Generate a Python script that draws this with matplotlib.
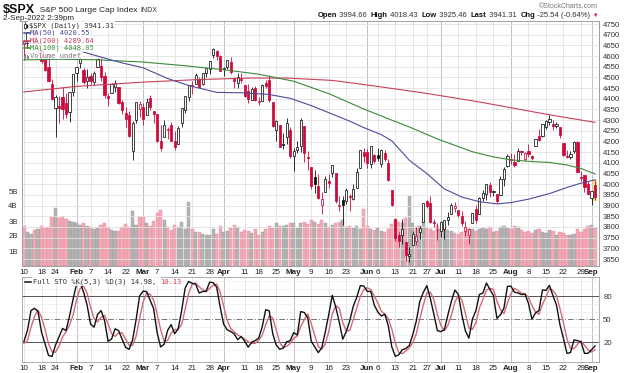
import numpy as np
import pandas as pd
import matplotlib
matplotlib.use("Agg")
import matplotlib.pyplot as plt
from matplotlib.patches import Rectangle
from matplotlib.lines import Line2D

plt.rcParams["font.family"] = ["Liberation Sans", "DejaVu Sans"]

# ---- data -------------------------------------------------------------
holidays = ["2022-01-17", "2022-02-21", "2022-04-15", "2022-05-30", "2022-06-20", "2022-07-04"]
dates = pd.bdate_range("2022-01-10", "2022-09-02", freq="C", holidays=holidays)

opens = [
    4655.34, 4669.14, 4728.59, 4733.56, 4637.99, 4632.24, 4588.03, 4547.35, 4471.38, 4356.32, 4366.64, 4408.43, 4380.58, 4336.19, 4431.79,
    4519.57, 4566.39, 4535.41, 4482.79, 4505.75, 4480.02, 4547.00, 4553.24, 4506.27, 4412.61, 4429.28, 4455.75, 4456.06, 4384.57, 4332.74, 4324.93, 4155.77, 4298.38, 4354.17,
    4363.14, 4322.56, 4401.31, 4342.12, 4327.01, 4202.66, 4223.10, 4252.55, 4279.50, 4202.75, 4188.82, 4288.14, 4345.11, 4407.34, 4462.40, 4469.10, 4493.10, 4469.98, 4522.66, 4541.09, 4602.86, 4624.20, 4599.02,
    4540.32, 4547.97, 4572.45, 4494.17, 4474.65, 4494.15, 4462.64, 4437.59, 4394.30, 4449.12, 4385.63, 4390.63, 4472.26, 4489.17, 4385.83, 4255.34, 4278.14, 4186.52, 4222.58, 4253.75,
    4130.61, 4159.78, 4181.18, 4270.43, 4128.17, 4081.27, 4035.18, 3990.08, 3903.95, 3963.90, 4013.02, 4052.00, 4051.98, 3899.00, 3927.76, 3919.42, 3942.94, 3929.59, 3984.60, 4077.43, 4151.09,
    4149.78, 4095.41, 4137.57, 4134.72, 4096.47, 4147.12, 4101.65, 3974.39, 3838.15, 3763.52, 3764.05, 3728.18, 3665.90, 3715.31, 3733.89, 3774.71, 3821.75, 3920.76, 3913.00, 3825.09, 3785.99,
    3781.00, 3792.61, 3831.98, 3858.85, 3888.26, 3880.94, 3851.95, 3779.67, 3763.99, 3818.00, 3883.79, 3860.73, 3935.32, 3955.47, 3998.43, 3965.72, 3953.22, 3951.43, 4026.13, 4087.33,
    4112.38, 4104.21, 4107.96, 4154.85, 4115.87, 4155.93, 4133.11, 4181.02, 4227.40, 4225.02, 4269.37, 4290.46, 4280.40, 4273.13, 4266.31, 4195.08, 4133.09, 4126.55, 4153.26, 4198.74, 4034.58, 4041.25, 4000.67,
    3936.73, 3994.66]
highs = [
    4673.02, 4714.13, 4748.83, 4744.13, 4665.13, 4632.24, 4611.55, 4602.11, 4494.52, 4417.35, 4411.01, 4453.23, 4428.74, 4432.72, 4516.89,
    4550.49, 4595.31, 4542.88, 4539.66, 4521.86, 4531.32, 4590.03, 4588.92, 4526.33, 4426.22, 4472.77, 4489.55, 4456.06, 4394.60, 4362.12, 4341.51, 4294.73, 4385.34, 4388.84,
    4378.45, 4401.48, 4416.78, 4342.12, 4327.01, 4276.94, 4299.40, 4268.28, 4291.01, 4247.57, 4271.05, 4357.86, 4412.67, 4465.40, 4481.75, 4522.00, 4501.07, 4520.58, 4546.03, 4575.65, 4637.30, 4627.77, 4603.07,
    4548.70, 4583.50, 4593.45, 4503.94, 4521.16, 4520.41, 4464.35, 4471.00, 4453.92, 4460.46, 4410.31, 4471.03, 4488.29, 4512.94, 4385.83, 4299.02, 4278.14, 4240.71, 4308.45, 4269.68,
    4169.81, 4200.10, 4307.66, 4270.43, 4157.69, 4081.27, 4068.82, 4049.09, 3964.80, 4038.88, 4046.46, 4090.72, 4051.98, 3945.96, 3943.42, 3981.88, 3955.68, 3999.33, 4075.14, 4158.49, 4168.34,
    4166.54, 4177.51, 4142.67, 4168.78, 4164.86, 4160.14, 4119.10, 3974.39, 3838.15, 3778.18, 3837.56, 3728.18, 3707.71, 3779.65, 3801.79, 3802.58, 3913.65, 3927.72, 3945.86, 3836.50, 3818.99,
    3829.82, 3832.19, 3870.91, 3910.63, 3918.50, 3880.94, 3873.41, 3829.44, 3796.41, 3863.62, 3902.44, 3939.81, 3974.13, 3999.29, 4012.44, 3975.30, 3953.22, 4039.56, 4078.95, 4140.15,
    4144.95, 4140.47, 4167.66, 4161.29, 4151.58, 4186.62, 4137.30, 4211.03, 4257.91, 4280.47, 4301.79, 4325.28, 4302.18, 4292.53, 4266.31, 4195.08, 4159.77, 4156.56, 4200.54, 4203.04, 4062.99, 4044.98, 4015.37,
    3970.23, 4018.43]
lows = [
    4582.24, 4638.27, 4706.71, 4650.29, 4614.75, 4568.70, 4530.20, 4477.95, 4395.34, 4222.62, 4287.11, 4304.80, 4309.50, 4292.46, 4414.02,
    4483.53, 4544.32, 4470.39, 4451.50, 4471.47, 4465.40, 4547.00, 4484.31, 4401.41, 4364.84, 4429.28, 4429.68, 4373.81, 4327.22, 4267.11, 4221.51, 4114.65, 4286.83, 4315.12,
    4279.54, 4322.56, 4345.56, 4284.98, 4199.85, 4157.87, 4223.10, 4209.80, 4200.49, 4161.72, 4187.90, 4267.92, 4335.65, 4390.57, 4424.30, 4469.10, 4455.81, 4465.17, 4501.07, 4517.69, 4589.66, 4581.32, 4530.41,
    4507.57, 4539.21, 4514.17, 4450.04, 4450.30, 4474.60, 4408.38, 4381.34, 4392.70, 4390.77, 4370.30, 4390.63, 4448.76, 4384.47, 4267.62, 4200.82, 4175.04, 4162.90, 4188.63, 4124.28,
    4062.51, 4147.08, 4148.91, 4106.01, 4067.91, 3975.48, 3958.17, 3928.82, 3858.87, 3963.90, 3983.99, 4033.93, 3911.91, 3876.58, 3810.32, 3909.04, 3875.13, 3925.03, 3984.60, 4077.43, 4104.88,
    4073.85, 4074.37, 4098.67, 4109.18, 4080.19, 4107.20, 4017.17, 3900.16, 3734.30, 3705.68, 3722.30, 3639.77, 3636.87, 3715.31, 3717.69, 3743.52, 3821.75, 3889.66, 3820.14, 3799.02, 3738.67,
    3752.10, 3742.06, 3809.37, 3858.85, 3869.34, 3847.22, 3802.36, 3759.07, 3721.56, 3817.18, 3818.63, 3860.73, 3922.03, 3927.64, 3938.85, 3944.47, 3910.74, 3951.43, 3992.97, 4079.22,
    4096.02, 4079.81, 4107.96, 4135.42, 4107.31, 4128.97, 4112.09, 4177.26, 4201.41, 4219.78, 4256.90, 4277.77, 4253.08, 4261.98, 4218.70, 4129.86, 4124.03, 4119.97, 4147.59, 4057.66, 4017.42, 3965.21, 3954.53,
    3903.65, 3925.46]
closes = [
    4670.29, 4713.07, 4726.35, 4659.03, 4662.85, 4577.11, 4532.76, 4482.73, 4397.94, 4410.13, 4356.45, 4349.93, 4326.51, 4431.85, 4515.55,
    4546.54, 4589.38, 4477.44, 4500.53, 4483.87, 4521.54, 4587.18, 4504.08, 4418.64, 4401.67, 4471.07, 4475.01, 4380.26, 4348.87, 4304.76, 4225.50, 4288.70, 4384.65, 4373.94,
    4306.26, 4386.54, 4363.49, 4328.87, 4201.09, 4170.70, 4277.88, 4259.52, 4204.31, 4173.11, 4262.45, 4357.86, 4411.67, 4463.12, 4461.18, 4511.61, 4456.24, 4520.16, 4543.06, 4575.52, 4631.60, 4602.45, 4530.41,
    4545.86, 4582.64, 4525.12, 4481.15, 4500.21, 4488.28, 4412.53, 4397.45, 4446.59, 4392.59, 4391.69, 4462.21, 4459.45, 4393.66, 4271.78, 4296.12, 4175.20, 4183.96, 4287.50, 4131.93,
    4155.38, 4175.48, 4300.17, 4146.87, 4123.34, 3991.24, 4001.05, 3935.18, 3930.08, 4023.89, 4008.01, 4088.85, 3923.68, 3900.79, 3901.36, 3973.75, 3941.48, 3978.73, 4057.84, 4158.24, 4132.15,
    4101.23, 4176.82, 4108.54, 4121.43, 4160.68, 4115.77, 4017.82, 3900.86, 3749.63, 3735.48, 3789.99, 3666.77, 3674.84, 3764.79, 3759.89, 3795.73, 3911.74, 3900.11, 3821.55, 3818.83, 3785.38,
    3825.33, 3831.39, 3845.08, 3902.62, 3899.38, 3854.43, 3818.80, 3801.78, 3790.38, 3863.16, 3830.85, 3936.69, 3959.90, 3998.95, 3961.63, 3966.84, 3921.05, 4023.61, 4072.43, 4130.29,
    4118.63, 4091.19, 4155.17, 4151.94, 4145.19, 4140.06, 4122.47, 4210.24, 4207.27, 4280.15, 4297.14, 4305.20, 4274.04, 4283.74, 4228.48, 4137.99, 4128.73, 4140.77, 4199.12, 4057.66, 4030.61, 3986.16, 3955.00,
    3966.85, 3941.31]
volume_b = [
    2.65, 2.25, 2.15, 2.40, 2.50, 2.70, 2.55, 2.60, 3.25, 3.90, 3.20, 3.30, 3.15, 3.00, 2.95,
    2.90, 2.75, 2.90, 2.70, 2.60, 2.45, 2.55, 2.75, 2.90, 2.55, 2.40, 2.35, 2.35, 2.60, 2.80, 2.60, 3.65, 2.75, 3.30,
    3.25, 2.90, 2.65, 3.00, 3.55, 3.75, 3.10, 2.60, 2.40, 2.75, 2.60, 2.95, 2.50, 4.25, 2.50, 2.30, 2.25, 2.15, 2.05, 2.10, 2.50, 2.15, 2.70,
    2.30, 2.35, 2.55, 2.75, 2.60, 2.30, 2.40, 2.35, 2.20, 2.50, 2.10, 2.30, 2.45, 2.70, 2.55, 2.85, 2.65, 2.70, 2.75, 2.90,
    2.85, 2.55, 2.90, 2.95, 2.80, 3.10, 2.95, 2.80, 3.05, 2.85, 2.60, 2.75, 2.85, 2.95, 3.10, 2.60, 2.65, 2.55, 2.70, 2.50, 3.80,
    2.65, 2.45, 2.40, 2.55, 2.35, 2.30, 2.50, 2.80, 3.15, 2.95, 2.90, 3.20, 4.65, 2.90, 2.60, 2.70, 3.05, 2.55, 2.45, 2.35, 2.70,
    2.50, 2.45, 2.40, 2.35, 2.20, 2.15, 2.30, 2.45, 2.50, 2.45, 2.35, 2.50, 2.55, 2.50, 2.60, 2.30, 2.35, 2.60, 2.70, 2.55,
    2.50, 2.65, 2.60, 2.40, 2.30, 2.35, 2.20, 2.40, 2.50, 2.30, 2.20, 2.40, 2.35, 2.10, 2.30, 2.20, 2.10, 2.05, 2.15, 2.45, 2.30, 2.45, 2.70,
    2.75, 2.55]

# bars before Jan 10 (Dec 29 .. Jan 7), only used to start the stochastic
pre_high = [4804.06, 4808.93, 4786.83, 4796.64, 4818.62, 4797.70, 4725.01, 4707.95]
pre_low = [4778.08, 4775.33, 4765.75, 4758.17, 4774.27, 4699.44, 4671.26, 4662.74]
pre_close = [4793.06, 4778.73, 4766.18, 4796.56, 4793.54, 4700.58, 4696.05, 4677.03]

# moving averages (trading-day index, value)
ma50_idx = [0, 8, 15, 22, 28, 34, 41, 47, 55, 62, 70, 76, 82, 87, 93, 97, 102, 105, 110, 115, 120, 125, 130, 135, 139, 144, 150, 155, 159, 163]
ma50_val = [4660, 4652, 4628, 4595, 4568, 4545, 4495, 4462, 4430, 4428, 4420, 4402, 4368, 4335, 4295, 4265, 4232, 4203, 4112, 4050, 3978, 3940, 3918, 3908, 3914, 3930, 3956, 3985, 4005, 4020.55]
ma100_idx = [0, 10, 20, 34, 45, 57, 67, 77, 87, 97, 105, 110, 118, 128, 134, 139, 145, 150, 155, 159, 163]
ma100_val = [4582, 4585, 4583, 4572, 4556, 4536, 4515, 4482, 4424, 4352, 4300, 4268, 4212, 4152, 4128, 4114, 4106, 4102, 4090, 4074, 4048.05]
ma200_idx = [0, 15, 34, 50, 65, 75, 88, 100, 115, 130, 140, 150, 157, 163]
ma200_val = [4432, 4458, 4478, 4490, 4497, 4497, 4486, 4460, 4425, 4385, 4355, 4325, 4306, 4289.64]

price_ticks = list(range(3650, 4751, 50))
vol_ticks = [1, 2, 3, 4, 5]
tick_dates = ["2022-01-10", "2022-01-18", "2022-01-24", "2022-02-01", "2022-02-07", "2022-02-14", "2022-02-22",
              "2022-03-01", "2022-03-07", "2022-03-14", "2022-03-21", "2022-03-28", "2022-04-01", "2022-04-11",
              "2022-04-18", "2022-04-25", "2022-05-02", "2022-05-09", "2022-05-16", "2022-05-23", "2022-06-01",
              "2022-06-06", "2022-06-13", "2022-06-21", "2022-06-27", "2022-07-01", "2022-07-11", "2022-07-18",
              "2022-07-25", "2022-08-01", "2022-08-08", "2022-08-15", "2022-08-22", "2022-08-29", "2022-09-01"]
tick_labels = ["10", "18", "24", "Feb", "7", "14", "22", "Mar", "7", "14", "21", "28", "Apr", "11", "18", "25",
               "May", "9", "16", "23", "Jun", "6", "13", "21", "27", "Jul", "11", "18", "25", "Aug", "8", "15",
               "22", "29", "Sep"]

# ---- derived ----------------------------------------------------------
o = np.array(opens); h = np.array(highs); l = np.array(lows); c = np.array(closes)
v = np.array(volume_b)
x = np.arange(len(c))
prev_c = np.concatenate([[pre_close[-1]], c[:-1]])

H = pd.Series(pre_high + highs); L = pd.Series(pre_low + lows); C = pd.Series(pre_close + closes)
hh = H.rolling(5).max(); ll = L.rolling(5).min()
raw = (C - ll) / (hh - ll) * 100
k_full = raw.rolling(3).mean()
d_full = k_full.rolling(3).mean()
sto_k = k_full.values[len(pre_close):]
sto_d = d_full.values[len(pre_close):]

ticks = [dates.get_loc(pd.Timestamp(d)) for d in tick_dates]
is_month = [lab.isalpha() for lab in tick_labels]

RED = "#cc0a3c"
GRID = "#e2e2e2"
MGRID = "#b8b8b8"

W, Hh = 630, 373
fig = plt.figure(figsize=(6.3, 3.73), dpi=100)
fig.patch.set_facecolor("white")

def fx(px):
    return px / W

def fy(py):
    return 1 - py / Hh

left, right = 22, 599
ax = fig.add_axes([fx(left), fy(266), (right - left) / W, (266 - 21) / Hh])
axs = fig.add_axes([fx(left), fy(362), (right - left) / W, (362 - 277) / Hh])
axp = ax.twinx()

xl = (-0.57, 164.14)
for a in (ax, axp, axs):
    a.set_xlim(*xl)
    for s in a.spines.values():
        s.set_color("#a0a0a0")
        s.set_linewidth(0.6)

# vertical grid
for t, m in zip(ticks, is_month):
    for a in (ax, axs):
        a.axvline(t, color=MGRID if m else GRID, lw=0.6, zorder=0)

# volume (left axis)
ax.set_ylim(0, 245 / 15.0)
vcol = np.where(c >= prev_c, "#b3b3b3", "#f2aab6")
vedge = np.where(c >= prev_c, "#9c9c9c", "#e58a9a")
ax.bar(x, v, width=0.92, color=vcol, edgecolor=vedge, linewidth=0.3, zorder=1)
ax.set_yticks(vol_ticks)
ax.set_yticklabels([f"{t}B" for t in vol_ticks])
ax.tick_params(axis="y", length=0, labelsize=5.6, pad=3, labelcolor="#333333")

# price (right axis)
scale = 235 / 1100.0
axp.set_ylim(3650 - 7 / scale, 4750 + 3 / scale)
for p in price_ticks:
    axp.axhline(p, color=GRID, lw=0.6, zorder=0)
axp.set_yticks(price_ticks)
axp.tick_params(axis="y", length=0, labelsize=5.6, pad=3, labelcolor="#333333")

col = np.where(c >= prev_c, "#111111", RED)
face = np.where(c > o, "white", col)

# last bar highlight
axp.bar(x[-1], h[-1] - l[-1] + 12, bottom=l[-1] - 6, width=1.25, color="#ffe27a", alpha=0.9, zorder=2)

axp.vlines(x, l, h, colors=col, lw=0.6, zorder=3)
body = np.maximum(np.abs(c - o), 1.0)
axp.bar(x, body, bottom=np.minimum(o, c), width=0.62, color=face, edgecolor=col, linewidth=0.55, zorder=4)

axp.plot(ma200_idx, ma200_val, color="#c8405a", lw=0.8, zorder=5)
axp.plot(ma100_idx, ma100_val, color="#3a8a3a", lw=0.8, zorder=5)
axp.plot(ma50_idx, ma50_val, color="#4c4c9c", lw=0.8, zorder=5)

for a in (ax, axs):
    a.set_xticks(ticks)
    a.set_xticklabels(tick_labels)
    a.tick_params(axis="x", length=0, labelsize=5.8, pad=2, labelcolor="#222222")
    for lab, m in zip(a.get_xticklabels(), is_month):
        if m:
            lab.set_fontweight("bold")

# stochastic
axs.set_ylim(-6, 105.5)
for lvl in range(10, 101, 10):
    if lvl not in (20, 50, 80):
        axs.axhline(lvl, color="#ececec", lw=0.5, zorder=0)
axs.axhline(80, color="#555555", lw=0.7, zorder=1)
axs.axhline(20, color="#555555", lw=0.7, zorder=1)
axs.axhline(50, color="#777777", lw=0.7, ls=(0, (6, 2, 1, 2)), zorder=1)
axs.plot(x, sto_d, color="#d36a76", lw=1.0, zorder=3)
axs.plot(x, sto_k, color="#111111", lw=1.0, zorder=4)
axs.yaxis.tick_right()
axs.set_yticks([20, 50, 80])
axs.tick_params(axis="y", length=0, labelsize=5.6, pad=3, labelcolor="#333333")

# ---- texts --------------------------------------------------------------
mono = "DejaVu Sans Mono"
renderer = fig.canvas.get_renderer()


def chain(pieces, x0, y0, anchor="left"):
    objs = []
    for s, size, wgt, cl in pieces:
        objs.append(fig.text(0, fy(y0), s, fontsize=size, fontweight=wgt, color=cl, va="center", ha="left"))
    widths = [t.get_window_extent(renderer).width for t in objs]
    cx = x0 if anchor == "left" else x0 - sum(widths)
    for t, wd in zip(objs, widths):
        t.set_x(fx(cx))
        cx += wd


chain([("$SPX", 9, "bold", "#111111"), ("  S&P 500 Large Cap Index ", 6.0, "normal", "#222222"),
       ("INDX", 5.0, "normal", "#333333")], 3, 10)
fig.text(fx(3), fy(19), "2-Sep-2022 2:39pm", fontsize=5.8, va="center", ha="left", color="#222222")
fig.text(fx(598), fy(6), "\u00a9StockCharts.com", fontsize=5.0, va="center", ha="right", color="#777777")

chain([("Open", 5.5, "bold", "#111111"), (" 3994.66  ", 5.5, "normal", "#333333"),
       ("High", 5.5, "bold", "#111111"), (" 4018.43  ", 5.5, "normal", "#333333"),
       ("Low", 5.5, "bold", "#111111"), (" 3925.46  ", 5.5, "normal", "#333333"),
       ("Last", 5.5, "bold", "#111111"), (" 3941.31  ", 5.5, "normal", "#333333"),
       ("Chg", 5.5, "bold", "#111111"), (" -25.54 (-0.64%) ", 5.5, "normal", "#333333"),
       ("\u25bc", 4, "normal", RED)], 598, 15.5, anchor="right")

# legend in price panel
bb = dict(facecolor="white", edgecolor="none", alpha=0.85, pad=0.6)
leg = [("$SPX (Daily) 3941.31", "#111111", 25.5),
       ("MA(50) 4020.55", "#4c4c9c", 33),
       ("MA(200) 4289.64", "#c8405a", 40.5),
       ("MA(100) 4048.05", "#3a8a3a", 48),
       ("Volume undef", "#777777", 55.5)]
for i, (s, cl, yy) in enumerate(leg):
    fig.text(fx(30 if i else 29), fy(yy), s, fontsize=5.1, family=mono, color="#333333" if i == 0 else cl,
             va="center", ha="left", bbox=bb, zorder=10)
    if i in (1, 2, 3):
        fig.add_artist(Line2D([fx(23.5), fx(29.5)], [fy(yy), fy(yy)], color=cl, lw=1.1, zorder=11))
# candle icon and volume icon
fig.add_artist(Line2D([fx(25), fx(25)], [fy(29), fy(22)], color="#111111", lw=0.5, zorder=11))
fig.add_artist(Rectangle((fx(24), fy(27.5)), 2 / W, 3.5 / Hh, facecolor="white", edgecolor="#111111", lw=0.5, zorder=12))
fig.add_artist(Rectangle((fx(26.5), fy(28)), 1.6 / W, 3 / Hh, facecolor="#111111", edgecolor="#111111", lw=0.3, zorder=12))
for dx, hgt in [(23.5, 3), (25, 5), (26.5, 4), (28, 2.5)]:
    fig.add_artist(Rectangle((fx(dx), fy(58.5)), 1.0 / W, hgt / Hh, facecolor="#888888", edgecolor="none", zorder=12))

# stochastic legend
fig.add_artist(Line2D([fx(25), fx(31)], [fy(281.5), fy(281.5)], color="#111111", lw=1.1, zorder=11))
t = fig.text(fx(33), fy(281.5), "Full STO %K(5,3) %D(3) 14.98, ", fontsize=5.1, family=mono,
             color="#333333", va="center", ha="left", bbox=bb, zorder=10)
ext = t.get_window_extent(renderer)
fig.text(fx(33) + ext.width / W, fy(281.5), "10.13", fontsize=5.1, family=mono, color="#d0404e",
         va="center", ha="left", zorder=11)

fig.savefig("out.png", dpi=100)
